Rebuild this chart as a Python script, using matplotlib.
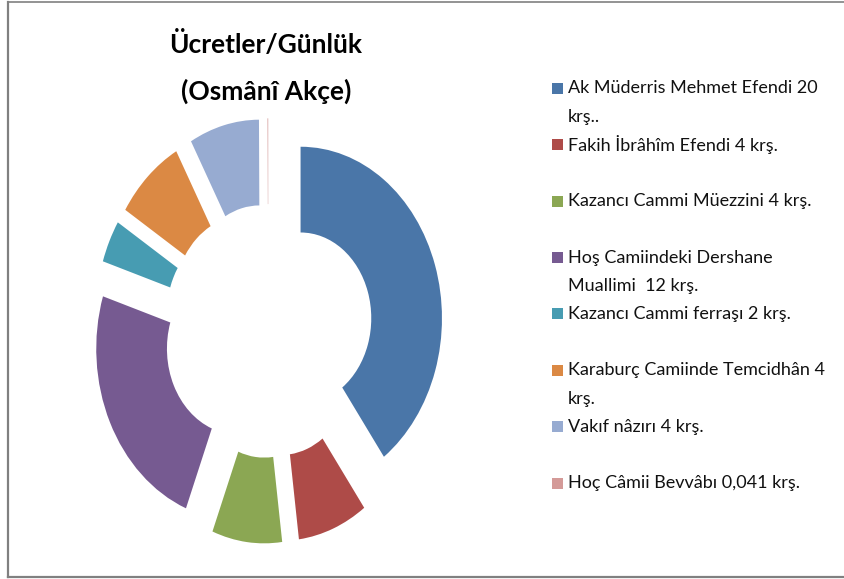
import matplotlib.pyplot as plt
from matplotlib.patches import Rectangle
from matplotlib.lines import Line2D

plt.rcParams['font.family'] = ['Lato', 'DejaVu Sans']

# data (daily wages, akçe / kuruş)
labels = ['Ak Müderris Mehmet Efendi 20\nkrş..',
          'Fakih İbrâhîm Efendi 4 krş.',
          'Kazancı Cammi Müezzini 4 krş.',
          'Hoş Camiindeki Dershane\nMuallimi  12 krş.',
          'Kazancı Cammi ferraşı 2 krş.',
          'Karaburç Camiinde Temcidhân 4\nkrş.',
          'Vakıf nâzırı 4 krş.',
          'Hoç Câmii Bevvâbı 0,041 krş.']
values = [20, 4, 4, 12, 2, 4, 4, 0.041]
colors = ['#4A76A8', '#AE4B48', '#8BA753', '#765A91',
          '#479CB2', '#DB8944', '#97ABD1', '#D49A98']

W, H = 844, 579
fig = plt.figure(figsize=(W / 100, H / 100), dpi=100)

# pie axes placed in pixels, stretched vertically like the original
sx, sy = 141.4, 171.5   # px per data unit
cx, cy = 268.3, 331.0   # centre in px (from top)
lim = 1.4
left = (cx - lim * sx) / W
bottom = (H - (cy + lim * sy)) / H
ax = fig.add_axes([left, bottom, 2 * lim * sx / W, 2 * lim * sy / H])

ax.pie(values, colors=colors, startangle=90, counterclock=False,
       explode=[0.24] * len(values),
       wedgeprops=dict(width=0.5, linewidth=0))
ax.set_aspect('auto')
ax.set_xlim(-lim, lim)
ax.set_ylim(-lim, lim)
ax.axis('off')

# title
fig.text(266 / W, 1 - 44 / H, 'Ücretler/Günlük', ha='center', va='center',
         fontsize=19, fontweight='bold')
fig.text(266 / W, 1 - 91 / H, '(Osmânî Akçe)', ha='center', va='center',
         fontsize=19, fontweight='bold')

# legend, drawn by hand to keep Excel's fixed row spacing
y0, step, line_h = 88.3, 56.4, 28.6
for i, (lab, col) in enumerate(zip(labels, colors)):
    y = y0 + i * step
    fig.add_artist(Rectangle((552 / W, 1 - (y + 5.5) / H), 11 / W, 11 / H,
                             transform=fig.transFigure, color=col, lw=0))
    for j, part in enumerate(lab.split('\n')):
        fig.text(568 / W, 1 - (y + j * line_h) / H, part, ha='left',
                 va='center', fontsize=13, color='#111111')

# chart border (left, top, bottom visible)
bc = '#808080'
fig.add_artist(Line2D([7.5 / W, 7.5 / W], [1 - 1.5 / H, 1 - 577 / H],
                      transform=fig.transFigure, color=bc, lw=1.6))
fig.add_artist(Line2D([7.5 / W, 1], [1 - 1.5 / H, 1 - 1.5 / H],
                      transform=fig.transFigure, color=bc, lw=1.2))
fig.add_artist(Line2D([7.5 / W, 1], [1 - 577 / H, 1 - 577 / H],
                      transform=fig.transFigure, color=bc, lw=1.6))

fig.savefig('out.png', dpi=100)
